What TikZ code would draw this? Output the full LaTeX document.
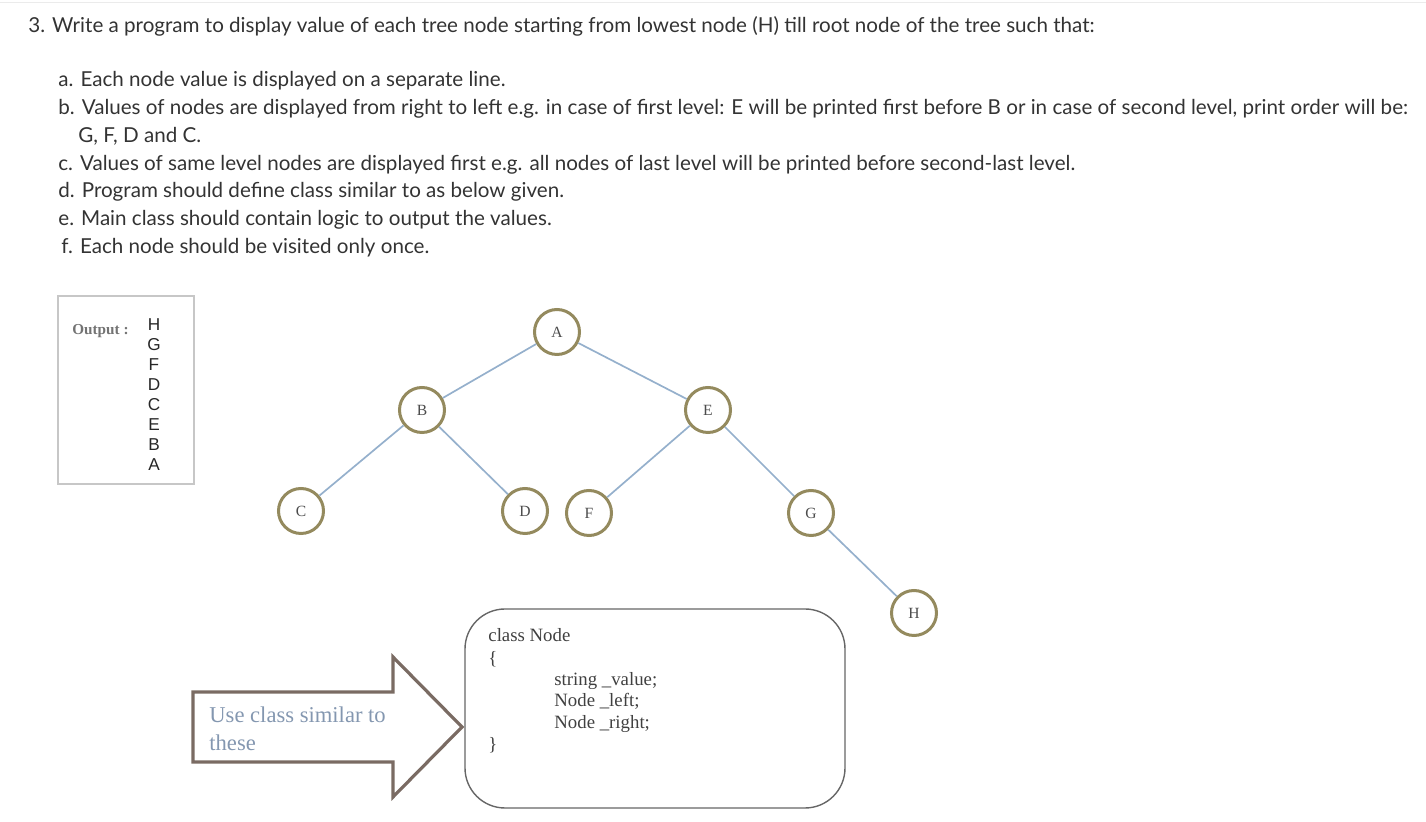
\documentclass[tikz,border=0pt]{standalone}
\usepackage{fontspec}
\setmainfont{Lato}
\newfontfamily\serifnode{Liberation Serif}
\newfontfamily\arialish{Liberation Sans}
\usetikzlibrary{positioning}

\definecolor{treerim}{HTML}{948A5E}
\definecolor{treeedge}{HTML}{95B0CC}
\definecolor{arrowrim}{HTML}{7A6B63}
\definecolor{notetext}{HTML}{8497B0}
\definecolor{bodytext}{HTML}{333333}

\begin{document}
\begin{tikzpicture}[x=0.5pt,y=-0.5pt,
  treenode/.style={circle,draw=treerim,line width=1.5pt,fill=white,
    minimum size=22.5pt,inner sep=0pt,text=black!70,
    font=\serifnode\fontsize{7.8}{9}\selectfont},
  treeline/.style={draw=treeedge,line width=0.85pt},
  qline/.style={anchor=base west,inner sep=0pt,text=bodytext,
    font=\fontsize{10.3}{12}\selectfont},
  codeline/.style={anchor=base west,inner sep=0pt,text=black!75,
    font=\serifnode\fontsize{9.4}{11}\selectfont}]

\useasboundingbox (0,0) rectangle (1426,822);
\draw[black!8,line width=0.5pt] (0,3) -- (1426,3);

% question text
\node[qline] (q0) at (28,33) {3. Write a program to display value of each tree node starting from lowest node (H) till root node of the tree such that:};
\node[qline] (qa) at (58,87) {a. Each node value is displayed on a separate line.};
\node[qline] (qb) at (58,115) {b. Values of nodes are displayed from right to left e.g. in case of first level: E will be printed first before B or in case of second level, print order will be:};
\node[qline] (qb2) at (78,143) {G, F, D and C.};
\node[qline] (qc) at (58,171) {c. Values of same level nodes are displayed first e.g. all nodes of last level will be printed before second-last level.};
\node[qline] (qd) at (58,198) {d. Program should define class similar to as below given.};
\node[qline] (qe) at (58,226) {e. Main class should contain logic to output the values.};
\node[qline] (qf) at (61,254) {f. Each node should be visited only once.};

% output box
\draw[black!22,line width=0.6pt] (58,296) rectangle (194,484);
\node[anchor=base west,inner sep=0pt,text=black!55,
  font=\serifnode\bfseries\fontsize{7.6}{9}\selectfont] (outlbl) at (72,335) {Output :};
\foreach \ltr [count=\i from 0] in {H,G,F,D,C,E,B,A}
  \node[anchor=base,inner sep=0pt,text=black!85,
    font=\arialish\fontsize{8.6}{10}\selectfont] (out\ltr) at (154,331+20*\i) {\ltr};

% tree
\node[treenode] (A) at (557,332) {A};
\node[treenode] (B) at (422,410) {B};
\node[treenode] (E) at (708,410) {E};
\node[treenode] (C) at (301,511) {C};
\node[treenode] (D) at (525,511) {D};
\node[treenode] (F) at (589,513) {F};
\node[treenode] (G) at (811,513) {G};
\node[treenode] (H) at (914,613) {H};

\draw[treeline] (A) -- (B);
\draw[treeline] (A) -- (E);
\draw[treeline] (B) -- (C);
\draw[treeline] (B) -- (D);
\draw[treeline] (E) -- (F);
\draw[treeline] (E) -- (G);
\draw[treeline] (G) -- (H);

% block arrow
\draw[arrowrim,line width=1.6pt,line join=miter]
  (193,692) -- (393,692) -- (393,657) -- (462,727) -- (393,797)
  -- (393,762) -- (193,762) -- cycle;
\node[anchor=base west,inner sep=0pt,text=notetext,
  font=\serifnode\fontsize{11.3}{14}\selectfont] (note1) at (209,723) {Use class similar to};
\node[anchor=base west,inner sep=0pt,text=notetext,
  font=\serifnode\fontsize{11.3}{14}\selectfont] (note2) at (209,751) {these};

% class box
\draw[black!60,line width=0.7pt,rounded corners=20pt] (465,609) rectangle (845,808);
\node[codeline] (c1) at (488,642) {class Node};
\node[codeline] (c2) at (488,665) {\{};
\node[codeline] (c3) at (554,686) {string \_value;};
\node[codeline] (c4) at (554,707) {Node \_left;};
\node[codeline] (c5) at (554,729) {Node \_right;};
\node[codeline] (c6) at (488,751) {\}};

\end{tikzpicture}
\end{document}
